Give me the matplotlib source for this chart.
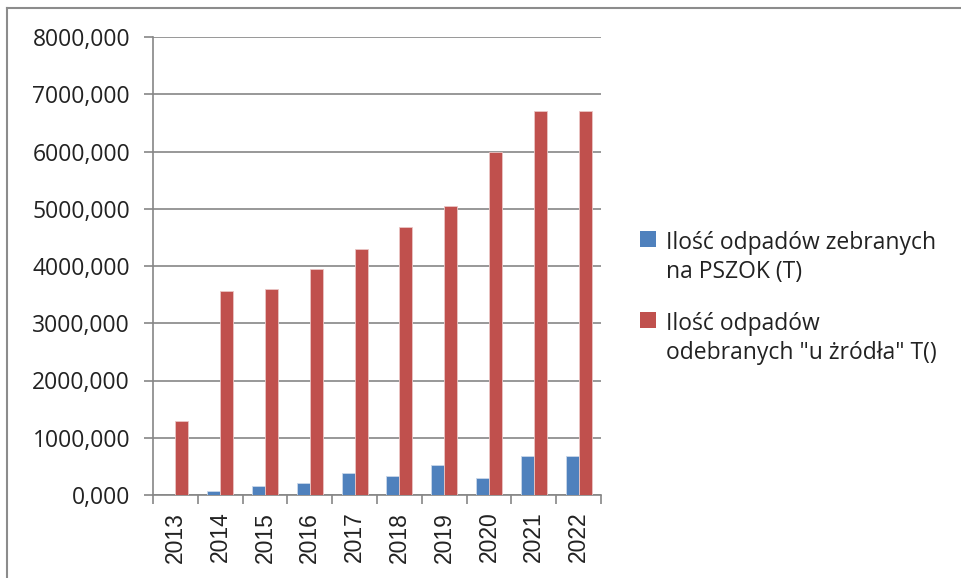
import matplotlib.pyplot as plt
from matplotlib.lines import Line2D
from matplotlib.patches import Rectangle
from matplotlib.legend_handler import HandlerPatch
import numpy as np

years = ["2013", "2014", "2015", "2016", "2017", "2018", "2019", "2020", "2021", "2022"]
pszok = [0, 75, 165, 205, 385, 340, 520, 300, 675, 675]
zrodlo = [1300, 3565, 3590, 3945, 4305, 4685, 5040, 5985, 6700, 6700]
labels = ["Ilość odpadów zebranych\nna PSZOK (T)",
          "Ilość odpadów\nodebranych \"u żródła\" T()"]
yticks = [0, 1000, 2000, 3000, 4000, 5000, 6000, 7000, 8000]

blue = "#4F81BD"
red = "#C0504D"
grid_c = "#868686"

fig = plt.figure(figsize=(9.62, 5.78), dpi=100)
ax = fig.add_axes([153 / 962, 1 - 495 / 578, 448 / 962, 458 / 578])

x = np.arange(len(years))
w = 0.29
b1 = ax.bar(x - w / 2, pszok, w, color=blue, edgecolor="#c9d7ea", linewidth=0.6, zorder=3)
b2 = ax.bar(x + w / 2, zrodlo, w, color=red, edgecolor="#eac6c5", linewidth=0.6, zorder=3)

ax.set_xlim(-0.5, len(years) - 0.5)
ax.set_ylim(0, 8000)
ax.set_yticks(yticks)
ax.set_yticklabels([f"{v},000" for v in yticks], fontfamily="Open Sans", fontsize=16.5, color="#222222")
ax.yaxis.grid(True, color=grid_c, linewidth=1.2, zorder=0)

ax.set_xticks(x)
ax.set_xticklabels(years, rotation=90, fontfamily="Liberation Sans", fontsize=16.5, color="#222222")
ax.set_xticks(np.arange(-0.5, len(years)), minor=True)
ax.tick_params(axis="x", which="major", length=0, pad=12)
ax.tick_params(axis="x", which="minor", length=6.5, width=1.2, color=grid_c, direction="out")
ax.tick_params(axis="y", length=6.5, width=1.2, color=grid_c, pad=10)

for s in ["top", "right"]:
    ax.spines[s].set_visible(False)
for s in ["left", "bottom"]:
    ax.spines[s].set_color(grid_c)
    ax.spines[s].set_linewidth(1.2)


# legend square sits next to the first line of the wrapped label
def top_square(legend, orig_handle, xdescent, ydescent, width, height, fontsize):
    return Rectangle((-xdescent, -ydescent + 14), width, height)


leg = fig.legend(handles=[b1.patches[0], b2.patches[0]], labels=labels, loc="upper left",
                 bbox_to_anchor=(619 / 962, 1 - 210 / 578),
                 frameon=False, prop={"family": "Open Sans", "size": 16.5}, handlelength=0.72,
                 handleheight=0.72, handletextpad=0.42, labelspacing=1.2,
                 handler_map={Rectangle: HandlerPatch(patch_func=top_square)})
for t in leg.get_texts():
    t.set_color("#222222")
    t.set_linespacing(1.3)
for h in leg.legend_handles:
    h.set_edgecolor("none")

# outer chart frame (left and top only visible)
fig.add_artist(Line2D([7 / 962, 7 / 962], [0, 1 - 8 / 578], color="#8c8c8c", linewidth=1.5))
fig.add_artist(Line2D([7 / 962, 1], [1 - 8 / 578, 1 - 8 / 578], color="#8c8c8c", linewidth=1.5))

fig.savefig("out.png", dpi=100)
